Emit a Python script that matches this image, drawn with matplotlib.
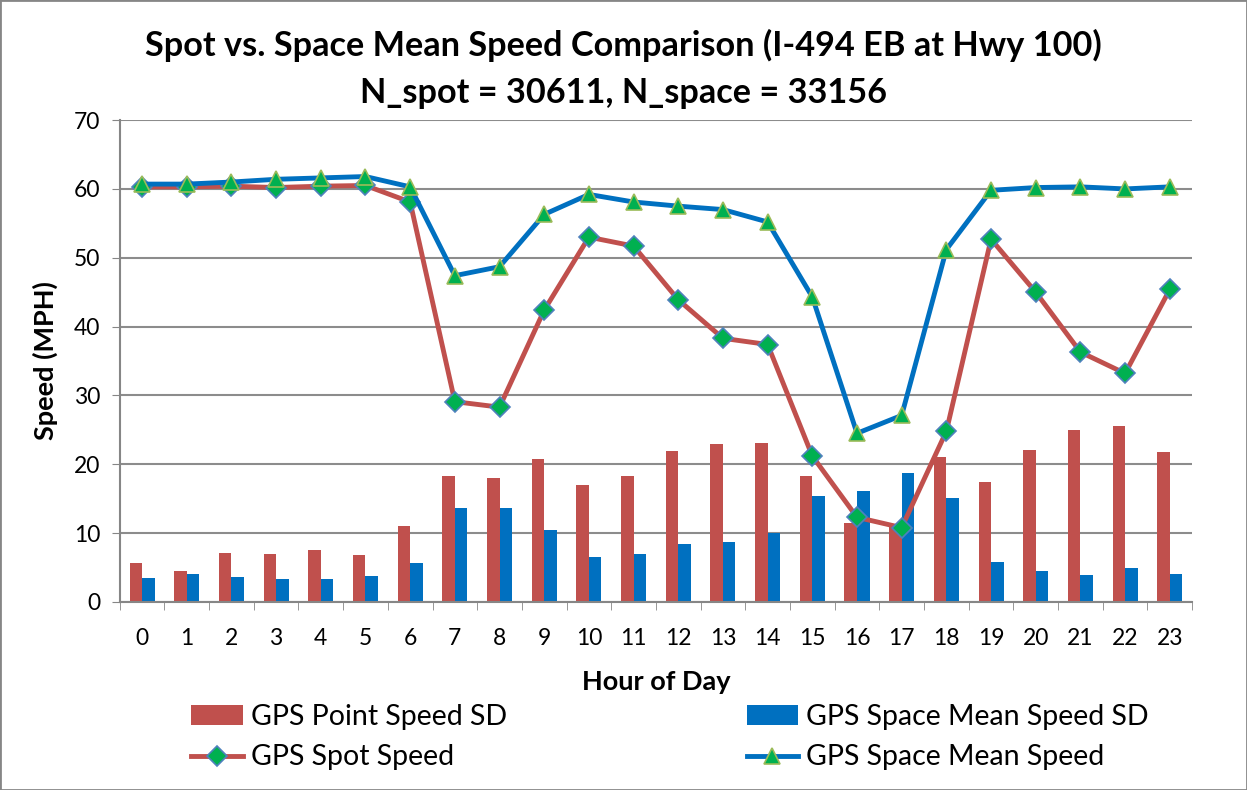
import numpy as np
import matplotlib.pyplot as plt
from matplotlib.patches import Rectangle

plt.rcParams['font.family'] = ['Lato', 'DejaVu Sans']

# data
hours = list(range(24))
point_sd = [5.6, 4.5, 7.1, 6.9, 7.5, 6.8, 11.1, 18.3, 18.0, 20.8, 17.0, 18.3,
            21.9, 22.9, 23.1, 18.3, 11.5, 11.0, 21.0, 17.5, 22.1, 25.0, 25.5, 21.8]
space_sd = [3.5, 4.1, 3.6, 3.3, 3.4, 3.8, 5.6, 13.6, 13.6, 10.5, 6.6, 7.0,
            8.4, 8.7, 10.0, 15.4, 16.1, 18.7, 15.1, 5.8, 4.5, 3.9, 5.0, 4.1]
spot_speed = [60.3, 60.3, 60.4, 60.2, 60.4, 60.5, 58.1, 29.1, 28.3, 42.4, 53.0, 51.7,
              43.9, 38.3, 37.4, 21.2, 12.3, 10.8, 24.8, 52.7, 45.0, 36.3, 33.2, 45.4]
space_speed = [60.7, 60.7, 61.0, 61.4, 61.6, 61.8, 60.3, 47.4, 48.7, 56.3, 59.2, 58.1,
               57.5, 57.0, 55.2, 44.3, 24.5, 27.1, 51.2, 59.8, 60.2, 60.3, 60.0, 60.3]

red = '#C0504D'
blue = '#0070C0'
green = '#00B050'

fig = plt.figure(figsize=(12.47, 7.9), dpi=100)
ax = fig.add_axes([0.096, 0.238, 0.86, 0.61])

x = np.arange(len(hours))
w = 0.28
b1 = ax.bar(x - w / 2, point_sd, w, color=red, label='GPS Point Speed SD', zorder=2)
b2 = ax.bar(x + w / 2, space_sd, w, color=blue, label='GPS Space Mean Speed SD', zorder=2)
l1, = ax.plot(x, spot_speed, color=red, lw=3.5, marker='D', ms=10, mfc=green,
              mec='#4F81BD', mew=1.2, label='GPS Spot Speed', zorder=3)
l2, = ax.plot(x, space_speed, color=blue, lw=3.5, marker='^', ms=12, mfc=green,
              mec='#9BBB59', mew=1.2, label='GPS Space Mean Speed', zorder=4)

ax.set_xlim(-0.5, 23.5)
ax.set_ylim(0, 70)
ax.set_yticks(range(0, 71, 10))
ax.set_xticks(x)
ax.set_xticklabels([str(h) for h in hours])
ax.set_xticks(np.arange(-0.5, 24, 1), minor=True)
ax.tick_params(axis='x', which='major', length=0, labelsize=16.5, pad=18.5)
ax.tick_params(axis='x', which='minor', length=6, color='#868686', direction='out')
ax.tick_params(axis='y', length=6, color='#868686', labelsize=16.5, pad=8)
ax.grid(axis='y', color='#8C8C8C', lw=1.5, zorder=0)
ax.set_axisbelow(True)
for s in ['top', 'right']:
    ax.spines[s].set_visible(False)
for s in ['left', 'bottom']:
    ax.spines[s].set_color('#868686')
    ax.spines[s].set_linewidth(1.5)

ax.set_xlabel('Hour of Day', fontsize=19.5, fontweight='bold', labelpad=15)
ax.set_ylabel('Speed (MPH)', fontsize=19.5, fontweight='bold', labelpad=11)
# title is centred on the figure, not on the plot area
ax.set_title('Spot vs. Space Mean Speed Comparison (I-494 EB at Hwy 100)\n'
             'N_spot = 30611, N_space = 33156',
             fontsize=24.7, fontweight='bold', pad=12, linespacing=1.6,
             x=(0.5 - 0.096) / 0.86)

fig.legend([b1, l1, b2, l2],
           ['GPS Point Speed SD', 'GPS Spot Speed',
            'GPS Space Mean Speed SD', 'GPS Space Mean Speed'],
           ncol=2, loc='upper left', bbox_to_anchor=(0.133, 0.141),
           frameon=False, fontsize=20.5, handlelength=1.8, handletextpad=0.3,
           columnspacing=8.4, labelspacing=0.5)

fig.patches.append(Rectangle((0, 0), 1, 1, transform=fig.transFigure,
                             fill=False, edgecolor='#868686', lw=2))

fig.savefig('out.png', dpi=100)
